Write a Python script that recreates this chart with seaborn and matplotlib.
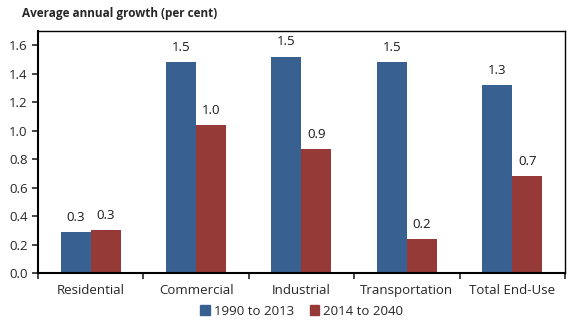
import matplotlib
matplotlib.use("Agg")
import matplotlib.pyplot as plt
import seaborn as sns
import pandas as pd
import numpy as np

categories = ["Residential", "Commercial", "Industrial", "Transportation", "Total End-Use"]
series_names = ["1990 to 2013", "2014 to 2040"]
growth_1990_2013 = [0.29, 1.48, 1.52, 1.48, 1.32]
growth_2014_2040 = [0.30, 1.04, 0.87, 0.24, 0.68]
colors = ["#386192", "#963A38"]

df = pd.DataFrame({
    "category": categories * 2,
    "series": [series_names[0]] * 5 + [series_names[1]] * 5,
    "value": growth_1990_2013 + growth_2014_2040,
})

sns.set_style("white")
plt.rcParams["font.family"] = ["Open Sans", "DejaVu Sans"]

fig = plt.figure(figsize=(5.8, 3.24), dpi=100)
ax = fig.add_axes([0.0655, 0.157, 0.9085, 0.747])
sns.barplot(data=df, x="category", y="value", hue="series", palette=colors,
            width=0.57, saturation=1, ax=ax, edgecolor="none")

for c in ax.containers:
    ax.bar_label(c, fmt="%.1f", padding=6, fontsize=9.5, color="#1a1a1a")

ax.set_ylim(0, 1.7)
ax.set_yticks(np.arange(0, 1.61, 0.2))
ax.set_yticklabels([f"{v:.1f}" for v in np.arange(0, 1.61, 0.2)], fontsize=9.5)
ax.set_xlim(-0.5, 4.5)
ax.set_xlabel("")
ax.set_ylabel("")
ax.tick_params(axis="x", length=0, labelsize=9.5, pad=8)
ax.set_xticks(np.arange(-0.5, 4.6, 1), minor=True)
ax.tick_params(axis="x", which="minor", length=4, width=1.2, direction="out", bottom=True)
ax.tick_params(axis="y", length=4, width=1.2, direction="out", left=True)
for s in ax.spines.values():
    s.set_visible(True)
    s.set_color("black")
ax.spines["left"].set_linewidth(1.5)
ax.spines["bottom"].set_linewidth(1.5)
ax.spines["top"].set_linewidth(1.0)
ax.spines["right"].set_linewidth(1.0)

fig.text(0.038, 0.957, "Average annual growth (per cent)", fontsize=8.5,
         fontweight="bold", ha="left", va="center")

ax.legend_.remove()
handles = [plt.Rectangle((0, 0), 1, 1, color=c) for c in colors]
fig.legend(handles, series_names, loc="center", bbox_to_anchor=(0.52, 0.04),
           ncol=2, frameon=False, fontsize=9.5, handlelength=0.7, handleheight=0.7,
           handletextpad=0.3, columnspacing=1.2)

fig.savefig("out.png", dpi=100)
